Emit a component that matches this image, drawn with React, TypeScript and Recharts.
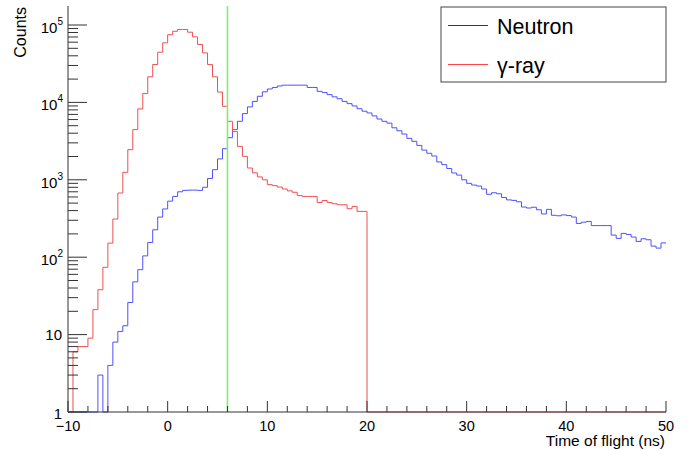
import { LineChart, Line, XAxis, YAxis, ReferenceLine } from "recharts";

// histogram binning: 0.5 ns bins from -10 to 50 ns
const binStart = -10;
const binWidth = 0.5;

// counts per bin (0 = empty bin)
const neutronCounts = [
  0, 0, 0, 0, 0, 0, 3, 0, 4, 8,
  11, 13, 26, 48, 69, 104, 155, 226, 330, 420,
  530, 610, 700, 730, 735, 735, 730, 800, 1040, 1350,
  1860, 2520, 3500, 4450, 5700, 7160, 8750, 10300, 12000, 13700,
  14900, 15600, 16300, 16700, 16700, 16700, 16700, 16700, 15600, 15600,
  13900, 13400, 12600, 11800, 11150, 10300, 9640, 9000, 8280, 7700,
  7300, 6700, 6100, 5700, 5400, 4700, 4300, 3900, 3430, 3140,
  2780, 2420, 2200, 2030, 1700, 1570, 1400, 1225, 1150, 1000,
  900, 855, 830, 760, 650, 680, 660, 590, 550, 542,
  520, 445, 432, 442, 410, 362, 415, 348, 343, 352,
  345, 330, 273, 283, 290, 256, 256, 256, 256, 193,
  175, 203, 197, 182, 160, 173, 168, 139, 131, 153,
];

const gammaCounts = [
  0, 6, 7, 7, 9, 21, 38, 74, 152, 311,
  675, 1250, 2450, 4450, 8240, 13000, 21400, 30900, 44500, 58800,
  75000, 83000, 87500, 87500, 80700, 70300, 56000, 43600, 30800, 21400,
  13600, 8900, 5700, 4200, 2700, 2010, 1420, 1230, 1090, 1000,
  865, 840, 805, 760, 720, 690, 625, 610, 610, 610,
  510, 540, 510, 490, 476, 476, 423, 453, 391, 391,
  0, 0, 0, 0, 0, 0, 0, 0, 0, 0,
  0, 0, 0, 0, 0, 0, 0, 0, 0, 0,
  0, 0, 0, 0, 0, 0, 0, 0, 0, 0,
  0, 0, 0, 0, 0, 0, 0, 0, 0, 0,
  0, 0, 0, 0, 0, 0, 0, 0, 0, 0,
  0, 0, 0, 0, 0, 0, 0, 0, 0, 0,
];

const cutTime = 6;

const xTicks = [-10, -8, -6, -4, -2, 0, 2, 4, 6, 8, 10, 12, 14, 16, 18, 20, 22, 24, 26, 28, 30, 32, 34, 36, 38, 40, 42, 44, 46, 48, 50];
const yTicks = [
  1, 2, 3, 4, 5, 6, 7, 8, 9,
  10, 20, 30, 40, 50, 60, 70, 80, 90,
  100, 200, 300, 400, 500, 600, 700, 800, 900,
  1000, 2000, 3000, 4000, 5000, 6000, 7000, 8000, 9000,
  10000, 20000, 30000, 40000, 50000, 60000, 70000, 80000, 90000,
  100000,
];

const FONT = "'Liberation Sans', Arial, Helvetica, sans-serif";
const AXIS = "#333";
const BLUE = "#5050ff";
const RED = "#ee5050";

// empty bins sit on the log-axis floor (1)
const histData = neutronCounts.map((n, i) => ({
  t: binStart + i * binWidth,
  neutron: Math.max(n, 1),
  gamma: Math.max(gammaCounts[i], 1),
}));
histData.push({
  t: binStart + neutronCounts.length * binWidth,
  neutron: Math.max(neutronCounts[neutronCounts.length - 1], 1),
  gamma: Math.max(gammaCounts[gammaCounts.length - 1], 1),
});

function XTick(props: any) {
  const { x, y, payload } = props;
  const v = payload.value;
  const major = v % 10 === 0;
  return (
    <g>
      <line x1={x} x2={x} y1={y} y2={y - (major ? 11 : 6)} stroke={AXIS} />
      {major && (
        <text x={x} y={y + 19} textAnchor="middle" fontSize={14.5} fill="#000" fontFamily={FONT}>
          {v < 0 ? `\u2212${-v}` : v}
        </text>
      )}
    </g>
  );
}

function YTick(props: any) {
  const { x, y, payload } = props;
  const v = payload.value;
  const lg = Math.log10(v);
  const exp = Math.round(lg);
  const major = Math.abs(lg - exp) < 1e-6;
  let label = null;
  if (major) {
    if (exp <= 1) {
      label = (
        <text x={x - 6} y={y + (exp === 0 ? 6.5 : 5.5)} textAnchor="end" fontSize={15} fill="#000" fontFamily={FONT}>
          {exp === 0 ? "1" : "10"}
        </text>
      );
    } else {
      label = (
        <text x={x - 5} y={y + 8} textAnchor="end" fontSize={15} fill="#000" fontFamily={FONT}>
          10
          <tspan fontSize={10} dy={-8}>{exp}</tspan>
        </text>
      );
    }
  }
  return (
    <g>
      <line x1={x} x2={x + (major ? 19 : 10)} y1={y} y2={y} stroke={AXIS} />
      {label}
    </g>
  );
}

export default function App() {
  return (
    <div style={{ position: "fixed", left: 0, top: 0, width: 699, height: 450, background: "#fff", fontFamily: FONT }}>
      <LineChart width={699} height={450} data={histData} margin={{ top: 6, right: 33, left: 8, bottom: 8 }}>
        <XAxis
          dataKey="t"
          type="number"
          domain={[-10, 50]}
          ticks={xTicks}
          interval={0}
          height={30}
          tickSize={0}
          tickMargin={0}
          tickLine={false}
          axisLine={{ stroke: AXIS }}
          tick={<XTick />}
        />
        <XAxis xAxisId="top" orientation="top" dataKey="t" type="number" domain={[-10, 50]} height={0} tick={false} tickLine={false} axisLine={{ stroke: AXIS }} />
        <YAxis
          scale="log"
          type="number"
          domain={[1, 176000]}
          ticks={yTicks}
          interval={0}
          width={60}
          tickSize={0}
          tickMargin={0}
          tickLine={false}
          axisLine={{ stroke: AXIS }}
          tick={<YTick />}
        />
        <YAxis yAxisId="right" orientation="right" width={0} tick={false} tickLine={false} axisLine={{ stroke: AXIS }} />
        <Line dataKey="neutron" type="stepAfter" stroke={BLUE} strokeWidth={1} dot={false} isAnimationActive={false} />
        <Line dataKey="gamma" type="stepAfter" stroke={RED} strokeWidth={1} dot={false} isAnimationActive={false} />
        <ReferenceLine x={cutTime} stroke="#86ec72" strokeWidth={1.6} />
      </LineChart>
      <svg width={699} height={450} style={{ position: "absolute", left: 0, top: 0, pointerEvents: "none" }}>
        <text transform="translate(25.5,7) rotate(-90)" textAnchor="end" fontSize={16} fill="#000" fontFamily={FONT}>
          Counts
        </text>
        <text x={665} y={446} textAnchor="end" fontSize={15.5} fill="#000" fontFamily={FONT}>
          Time of flight (ns)
        </text>
        <rect x={441} y={7} width={225} height={75} fill="#fff" stroke="#444" strokeWidth={1} />
        <line x1={448} x2={488} y1={25.5} y2={25.5} stroke="#2020ff" strokeWidth={1} />
        <text x={497} y={33.5} fontSize={21.5} fill="#000" fontFamily={FONT}>
          Neutron
        </text>
        <line x1={448} x2={488} y1={64.5} y2={64.5} stroke="#ff4545" strokeWidth={1} />
        <text x={497} y={72.5} fontSize={21.5} fill="#000" fontFamily={FONT}>
          γ-ray
        </text>
      </svg>
    </div>
  );
}
